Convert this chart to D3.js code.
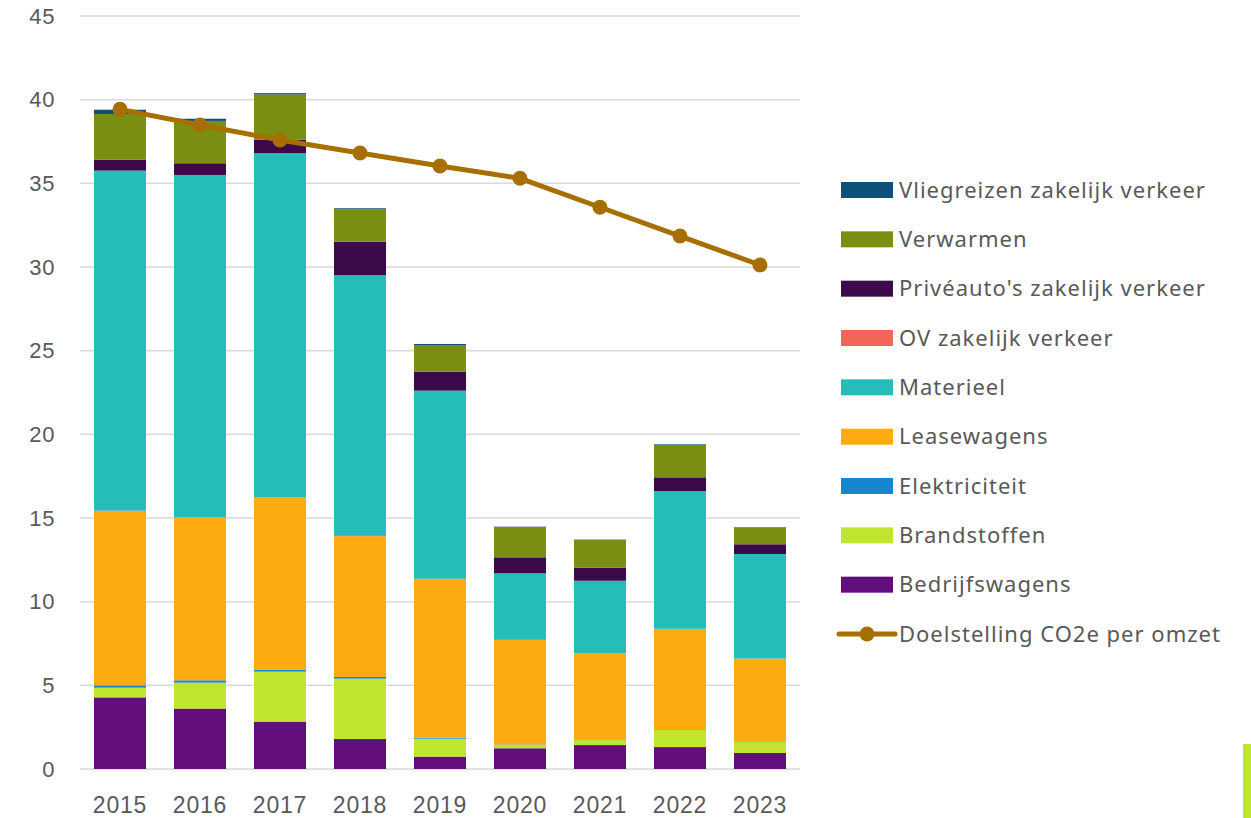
<!DOCTYPE html>
<html>
<head>
<meta charset="utf-8">
<script src="https://cdn.jsdelivr.net/npm/d3@7"></script>
<style>
  html, body { margin: 0; padding: 0; background: #fff; }
  svg { display: block; font-family: "Noto Sans", Roboto, sans-serif; }
</style>
</head>
<body>
<svg id="chart" width="1251" height="818"></svg>
<script>
const years = ["2015","2016","2017","2018","2019","2020","2021","2022","2023"];
const bedrijfswagens = [4.28, 3.61, 2.83, 1.79, 0.74, 1.24, 1.43, 1.31, 0.96];
const brandstoffen   = [0.58, 1.55, 2.99, 3.61, 1.07, 0.19, 0.30, 1.04, 0.65];
const elektriciteit  = [0.14, 0.14, 0.12, 0.10, 0.06, 0.03, 0.03, 0.03, 0.03];
const leasewagens    = [10.42, 9.72, 10.28, 8.41, 9.48, 6.25, 5.13, 5.99, 4.95];
const ov             = [0.02, 0.02, 0.02, 0.02, 0.02, 0.01, 0.01, 0.01, 0.01];
const materieel      = [20.32, 20.46, 20.56, 15.59, 11.24, 3.98, 4.35, 8.22, 6.25];
const priveautos     = [0.65, 0.70, 0.80, 1.99, 1.13, 0.95, 0.78, 0.83, 0.58];
const verwarmen      = [2.73, 2.53, 2.71, 1.94, 1.60, 1.81, 1.66, 1.95, 0.99];
const vliegreizen    = [0.26, 0.13, 0.08, 0.06, 0.06, 0.02, 0.02, 0.03, 0.03];
const doelstelling   = [39.42, 38.49, 37.59, 36.81, 36.04, 35.30, 33.57, 31.85, 30.12];
const yTicks = [0, 5, 10, 15, 20, 25, 30, 35, 40, 45];

const seriesNames = ["Bedrijfswagens","Brandstoffen","Elektriciteit","Leasewagens","OV zakelijk verkeer","Materieel","Privéauto's zakelijk verkeer","Verwarmen","Vliegreizen zakelijk verkeer"];
const seriesValues = [bedrijfswagens, brandstoffen, elektriciteit, leasewagens, ov, materieel, priveautos, verwarmen, vliegreizen];
const seriesColors = ["#620E7C","#C0E52E","#1687CE","#FDAB10","#F2665A","#25BDBA","#3C0A4A","#7A8F12","#0E4F7A"];
const lineName = "Doelstelling CO2e per omzet";
const lineColor = "#A66F00";
const legendOrder = ["Vliegreizen zakelijk verkeer","Verwarmen","Privéauto's zakelijk verkeer","OV zakelijk verkeer","Materieel","Leasewagens","Elektriciteit","Brandstoffen","Bedrijfswagens"];

const svg = d3.select("#chart");
const x = d3.scaleBand().domain(years).range([80, 800]).paddingInner(0.35).paddingOuter(0.175);
const y = d3.scaleLinear().domain([0, 45]).range([769, 16]);

// gridlines
svg.append("g").selectAll("line").data(yTicks).join("line")
  .attr("x1", 80).attr("x2", 800)
  .attr("y1", d => y(d)).attr("y2", d => y(d))
  .attr("stroke", "#d9d9d9").attr("stroke-width", 1.5);

const axisFont = "'Liberation Sans', Arial, sans-serif";
// y axis labels
const yAxis = d3.axisLeft(y).tickValues(yTicks).tickSize(0).tickPadding(0);
const yg = svg.append("g").attr("transform", "translate(55,0)").call(yAxis);
yg.select(".domain").remove();
yg.selectAll("text").attr("font-size", 22).attr("fill", "#595959")
  .style("font-family", axisFont).style("letter-spacing", "0.6px");

// x axis labels
const xAxis = d3.axisBottom(x).tickSize(0).tickPadding(0);
const xg = svg.append("g").attr("transform", "translate(0,797)").call(xAxis);
xg.select(".domain").remove();
xg.selectAll("text").attr("font-size", 23).attr("fill", "#595959")
  .style("font-family", axisFont).style("letter-spacing", "0.8px");

// stacked data
const table = years.map((yr, i) => {
  const o = { year: yr };
  seriesNames.forEach((n, k) => o[n] = seriesValues[k][i]);
  return o;
});
const stack = d3.stack().keys(seriesNames)(table);

svg.append("g").selectAll("g").data(stack).join("g")
  .attr("fill", (d, k) => seriesColors[k])
  .selectAll("rect").data(d => d).join("rect")
  .attr("x", d => x(d.data.year))
  .attr("width", x.bandwidth())
  .attr("y", d => y(d[1]))
  .attr("height", d => Math.max(0, y(d[0]) - y(d[1])));

// line
const line = d3.line().x((d, i) => x(years[i]) + x.bandwidth() / 2).y(d => y(d));
svg.append("path").datum(doelstelling)
  .attr("d", line).attr("fill", "none")
  .attr("stroke", lineColor).attr("stroke-width", 5).attr("stroke-linejoin", "round");
svg.append("g").selectAll("circle").data(doelstelling).join("circle")
  .attr("cx", (d, i) => x(years[i]) + x.bandwidth() / 2)
  .attr("cy", d => y(d)).attr("r", 7.5).attr("fill", lineColor);

// legend
const lg = svg.append("g");
const legY = d3.scalePoint().domain([...legendOrder, lineName]).range([190, 634]);
legendOrder.forEach(n => {
  const k = seriesNames.indexOf(n);
  lg.append("rect").attr("x", 841).attr("y", legY(n) - 8).attr("width", 52).attr("height", 16).attr("fill", seriesColors[k]);
  lg.append("text").attr("x", 899).attr("y", legY(n)).attr("dy", "0.35em")
    .attr("font-size", 22).attr("fill", "#595959").style("letter-spacing", "1px").text(n);
});
lg.append("line").attr("x1", 839).attr("x2", 895).attr("y1", legY(lineName)).attr("y2", legY(lineName))
  .attr("stroke", lineColor).attr("stroke-width", 5).attr("stroke-linecap", "round");
lg.append("circle").attr("cx", 867).attr("cy", legY(lineName)).attr("r", 7.5).attr("fill", lineColor);
lg.append("text").attr("x", 899).attr("y", legY(lineName)).attr("dy", "0.35em")
  .attr("font-size", 22).attr("fill", "#595959").style("letter-spacing", "1px").text(lineName);

// decorative accent bar
svg.append("rect").attr("x", 1243).attr("y", 744).attr("width", 8).attr("height", 74).attr("fill", "#C0E52E");
</script>
</body>
</html>
